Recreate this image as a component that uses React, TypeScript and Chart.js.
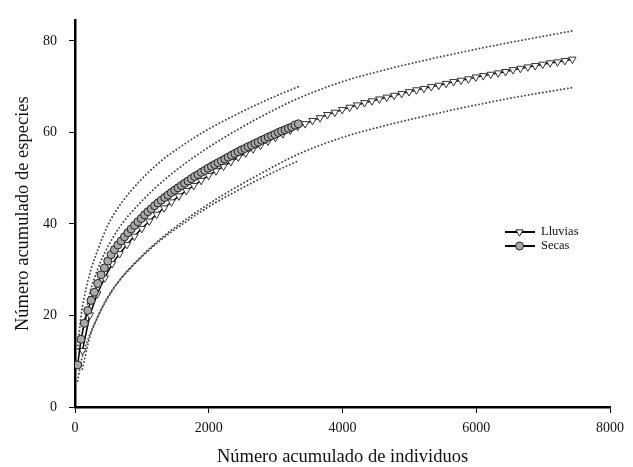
import React, { useEffect, useRef } from 'react';
import { Chart, registerables } from 'chart.js';

Chart.register(...registerables);

// ---- Data ----
const SERIES_NAMES = ['Lluvias', 'Secas'];
const X_TITLE = 'Número acumulado de individuos';
const Y_TITLE = 'Número acumulado de especies';
const X_TICKS = [0, 2000, 4000, 6000, 8000];
const Y_TICKS = [0, 20, 40, 60, 80];

const secasX = [
  40, 90, 140, 190, 240, 290, 340, 390, 440, 490,
  540, 590, 640, 690, 740, 790, 840, 890, 940, 990,
  1040, 1090, 1140, 1190, 1240, 1290, 1340, 1390, 1440, 1490,
  1540, 1590, 1640, 1690, 1740, 1790, 1840, 1890, 1940, 1990,
  2040, 2090, 2140, 2190, 2240, 2290, 2340, 2390, 2440, 2490,
  2540, 2590, 2640, 2690, 2740, 2790, 2840, 2890, 2940, 2990,
  3040, 3090, 3140, 3190, 3240, 3290, 3340,
];
const secasY = [
  9.2, 14.8, 18.3, 21.1, 23.3, 25.1, 27.0, 28.9, 30.4, 31.9,
  33.3, 34.4, 35.4, 36.3, 37.2, 38.1, 38.9, 39.7, 40.5, 41.2,
  42.0, 42.7, 43.3, 44.0, 44.6, 45.2, 45.8, 46.3, 46.9, 47.4,
  47.9, 48.4, 48.9, 49.4, 49.9, 50.4, 50.8, 51.3, 51.7, 52.2,
  52.6, 53.0, 53.4, 53.8, 54.2, 54.6, 55.0, 55.4, 55.8, 56.2,
  56.5, 56.9, 57.2, 57.6, 57.9, 58.3, 58.6, 59.0, 59.3, 59.6,
  60.0, 60.3, 60.6, 60.9, 61.2, 61.6, 61.9,
];

const lluviasX = [
  111, 222, 333, 444, 555, 666, 777, 888, 999, 1110,
  1221, 1332, 1443, 1554, 1665, 1776, 1887, 1998, 2109, 2220,
  2331, 2442, 2553, 2664, 2775, 2886, 2997, 3108, 3219, 3330,
  3441, 3552, 3663, 3774, 3885, 3996, 4107, 4218, 4329, 4440,
  4551, 4662, 4773, 4884, 4995, 5106, 5217, 5328, 5439, 5550,
  5661, 5772, 5883, 5994, 6105, 6216, 6327, 6438, 6549, 6660,
  6771, 6882, 6993, 7104, 7215, 7326, 7437,
];
const lluviasY = [
  12.3, 20.1, 24.7, 28.2, 31.3, 33.5, 35.5, 37.3, 39.0, 40.6,
  42.1, 43.5, 44.8, 46.1, 47.3, 48.4, 49.5, 50.6, 51.6, 52.6,
  53.6, 54.6, 55.5, 56.4, 57.2, 58.1, 58.9, 59.7, 60.5, 61.3,
  61.9, 62.6, 63.2, 63.9, 64.4, 65.0, 65.5, 66.0, 66.5, 66.9,
  67.3, 67.7, 68.1, 68.5, 68.9, 69.3, 69.6, 70.0, 70.3, 70.7,
  71.1, 71.4, 71.7, 72.1, 72.4, 72.7, 73.0, 73.3, 73.7, 74.0,
  74.3, 74.6, 74.9, 75.2, 75.4, 75.7, 76.0,
];

// 95% confidence bounds (dotted lines)
const secasCiX = [40, 90, 140, 240, 340, 490, 690, 990, 1290, 1640, 1990, 2340, 2690, 3040, 3340];
const secasUpper = [12.7, 19.8, 24.1, 30.1, 34.3, 39.7, 44.5, 49.7, 53.8, 57.5, 60.7, 63.4, 65.9, 68.2, 70.0];
const secasLower = [5.7, 9.8, 12.5, 16.5, 19.7, 24.1, 28.1, 32.7, 36.6, 40.3, 43.7, 46.6, 49.3, 51.8, 53.8];

const lluviasCiX = [111, 222, 333, 444, 666, 999, 1332, 1776, 2220, 2775, 3330, 3996, 4662, 5328, 5994, 6660, 7437];
const lluviasUpper = [16.3, 24.9, 29.9, 33.7, 39.3, 45.0, 49.6, 54.6, 58.8, 63.4, 67.4, 71.1, 73.8, 76.1, 78.2, 80.1, 82.2];
const lluviasLower = [8.3, 15.3, 19.5, 22.7, 27.7, 33.0, 37.4, 42.2, 46.4, 51.0, 55.2, 58.9, 61.6, 63.9, 66.0, 67.9, 69.8];

const FONT = "'Liberation Serif', 'Times New Roman', Times, serif";

const toPts = (xs: number[], ys: number[]) => xs.map((x, i) => ({ x, y: ys[i] }));

const legendPlugin = {
  id: 'insideLegend',
  afterDraw(chart: any) {
    const ctx: CanvasRenderingContext2D = chart.ctx;
    const x0 = 505;
    const x1 = 535;
    const xm = 519.5;
    const rows = [232, 246];
    ctx.save();
    rows.forEach((y, i) => {
      ctx.strokeStyle = '#000';
      ctx.lineWidth = 2;
      ctx.beginPath();
      ctx.moveTo(x0, y);
      ctx.lineTo(x1, y);
      ctx.stroke();
      ctx.lineWidth = 1;
      ctx.strokeStyle = '#222';
      if (i === 0) {
        const r = 4.2;
        ctx.fillStyle = '#fff';
        ctx.beginPath();
        ctx.moveTo(xm - r * 0.866, y - r * 0.5);
        ctx.lineTo(xm + r * 0.866, y - r * 0.5);
        ctx.lineTo(xm, y + r);
        ctx.closePath();
        ctx.fill();
        ctx.stroke();
      } else {
        ctx.fillStyle = '#a8a8a8';
        ctx.beginPath();
        ctx.arc(xm, y, 4, 0, Math.PI * 2);
        ctx.fill();
        ctx.stroke();
      }
      ctx.fillStyle = '#111';
      ctx.font = `12.5px ${FONT}`;
      ctx.textBaseline = 'middle';
      ctx.textAlign = 'left';
      ctx.fillText(SERIES_NAMES[i], 541, y);
    });
    ctx.restore();
  },
};

export default function App() {
  const ref = useRef<HTMLCanvasElement>(null);

  useEffect(() => {
    if (!ref.current) return;
    const dotted = {
      borderColor: '#4a4a4a',
      borderWidth: 2,
      borderDash: [0.01, 3.6],
      borderCapStyle: 'round' as const,
      pointRadius: 0,
      fill: false,
      cubicInterpolationMode: 'monotone' as const,
    };
    const chart = new Chart(ref.current, {
      type: 'line',
      data: {
        datasets: [
          {
            label: SERIES_NAMES[1],
            data: toPts(secasX, secasY),
            borderColor: '#000',
            borderWidth: 1.5,
            pointStyle: 'circle',
            pointRadius: 4,
            pointBackgroundColor: '#a8a8a8',
            pointBorderColor: '#222',
            pointBorderWidth: 1,
            tension: 0,
          },
          {
            label: SERIES_NAMES[0],
            data: toPts(lluviasX, lluviasY),
            borderColor: '#000',
            borderWidth: 1.5,
            pointStyle: 'triangle',
            rotation: 180,
            pointRadius: 4.3,
            pointBackgroundColor: '#fff',
            pointBorderColor: '#333',
            pointBorderWidth: 1,
            tension: 0,
          },
          { label: 'Secas sup', data: toPts(secasCiX, secasUpper), ...dotted },
          { label: 'Secas inf', data: toPts(secasCiX, secasLower), ...dotted },
          { label: 'Lluvias sup', data: toPts(lluviasCiX, lluviasUpper), ...dotted },
          { label: 'Lluvias inf', data: toPts(lluviasCiX, lluviasLower), ...dotted },
        ],
      },
      options: {
        animation: false,
        responsive: false,
        devicePixelRatio: 1,
        layout: { padding: { top: 15, right: 23, left: 0, bottom: 0 } },
        plugins: {
          legend: { display: false },
          tooltip: { enabled: false },
        },
        scales: {
          x: {
            type: 'linear',
            min: X_TICKS[0],
            max: X_TICKS[X_TICKS.length - 1],
            afterFit: (s: any) => {
              s.height = 60;
            },
            afterBuildTicks: (s: any) => {
              s.ticks = X_TICKS.map((v) => ({ value: v }));
            },
            border: { display: true, color: '#000', width: 2.5 },
            grid: {
              drawOnChartArea: false,
              drawTicks: true,
              tickLength: 6,
              color: '#000',
              lineWidth: 1,
            },
            ticks: {
              color: '#111',
              font: { family: FONT, size: 14 },
              padding: 7,
              maxRotation: 0,
              autoSkip: false,
              callback: (v: any) => String(v),
            },
            title: {
              display: true,
              text: X_TITLE,
              color: '#111',
              font: { family: FONT, size: 18.5, lineHeight: 1 },
              padding: { top: 0, bottom: 1 },
            },
          },
          y: {
            type: 'linear',
            min: 0,
            max: 84.5,
            afterFit: (s: any) => {
              s.width = 75;
            },
            afterBuildTicks: (s: any) => {
              s.ticks = Y_TICKS.map((v) => ({ value: v }));
            },
            border: { display: true, color: '#000', width: 2.5 },
            grid: {
              drawOnChartArea: false,
              drawTicks: true,
              tickLength: 6,
              color: '#000',
              lineWidth: 1,
            },
            ticks: {
              color: '#111',
              font: { family: FONT, size: 14 },
              padding: 12,
              autoSkip: false,
              callback: (v: any) => String(v),
            },
            title: {
              display: true,
              text: Y_TITLE,
              color: '#111',
              font: { family: FONT, size: 18.5, lineHeight: 1 },
              padding: { top: 13.5, bottom: 0 },
            },
          },
        },
      },
      plugins: [legendPlugin],
    } as any);
    return () => chart.destroy();
  }, []);

  return (
    <div style={{ position: 'fixed', left: 0, top: 0, width: 633, height: 467, background: '#fff' }}>
      <canvas ref={ref} width={633} height={467} style={{ display: 'block' }} />
    </div>
  );
}
